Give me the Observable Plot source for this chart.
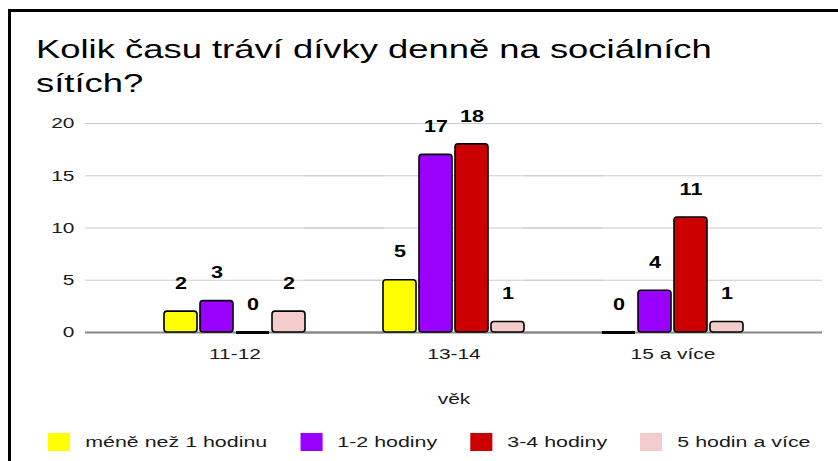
<!DOCTYPE html>
<html>
<head>
<meta charset="utf-8">
<script src="https://cdn.jsdelivr.net/npm/d3@7"></script>
<script src="https://cdn.jsdelivr.net/npm/@observablehq/plot@0.6"></script>
<style>
  html, body { margin: 0; padding: 0; background: #fff; }
  body { width: 838px; height: 461px; overflow: hidden; position: relative; font-family: "Liberation Sans", Arial, sans-serif; }
  #hline { position: absolute; left: 8px; top: 9px; width: 830px; height: 3px; background: #000; }
  #vline { position: absolute; left: 8px; top: 9px; width: 3px; height: 452px; background: #000; }
  #title { position: absolute; left: 36px; top: 32px; font-size: 26px; line-height: 34px; color: #000; white-space: nowrap; transform: scaleX(1.4); transform-origin: 0 0; }
  #chart { position: absolute; left: 0; top: 108px; }
  #legend { position: absolute; left: 48px; top: 425px; transform: scaleX(1.38); transform-origin: 0 0; white-space: nowrap; }
  .lg-swatch { margin-right: 23.8px !important; }
  .lg-swatch > svg { margin-right: 11px !important; }
</style>
</head>
<body>
<div id="hline"></div>
<div id="vline"></div>
<div id="title">Kolik času tráví dívky denně na sociálních<br>sítích?</div>
<div id="chart"></div>
<div id="legend"></div>
<script>
const groups = ["11-12", "13-14", "15 a více"];
const series = ["méně než 1 hodinu", "1-2 hodiny", "3-4 hodiny", "5 hodin a více"];
const colors = ["#ffff00", "#9900ff", "#cc0000", "#f4cccc"];
const values = {
  "méně než 1 hodinu": [2, 5, 0],
  "1-2 hodiny": [3, 17, 4],
  "3-4 hodiny": [0, 18, 11],
  "5 hodin a více": [2, 1, 1]
};
const yTicks = [0, 5, 10, 15, 20];
const xLabel = "věk";

const data = [];
for (const s of series) groups.forEach((g, i) => data.push({group: g, series: s, value: values[s][i]}));

const chart = Plot.plot({
  width: 838,
  height: 304,
  marginLeft: 84,
  marginRight: 16,
  marginTop: 15,
  marginBottom: 80,
  style: {fontFamily: "Liberation Sans, Arial, sans-serif", fontSize: "15.5px", color: "#1a1a1a", background: "transparent"},
  fx: {domain: groups, paddingInner: 0, paddingOuter: 0.1773},
  x: {domain: series, paddingInner: 0.07, paddingOuter: 1.04, axis: null},
  y: {domain: [0, 20], ticks: yTicks, axis: null},
  color: {domain: series, range: colors},
  marks: [
    Plot.ruleY(yTicks.filter(d => d !== 0), {stroke: "#cccccc", strokeWidth: 1.2, insetLeft: -40, insetRight: -40}),
    Plot.axisY({ticks: yTicks, tickSize: 0, tickPadding: 51, label: null, fontSize: 15.5}),
    Plot.axisFx({anchor: "bottom", tickSize: 0, tickPadding: 15, label: xLabel, labelAnchor: "center", labelOffset: 71, fontSize: 15.5}),
    Plot.ruleY([0], {stroke: "#888888", strokeWidth: 2, insetLeft: -40, insetRight: -40}),
    Plot.barY(data, {fx: "group", x: "series", y: "value", fill: "series", stroke: "#000", strokeWidth: 1.6, rx: 3}),
    Plot.tickY(data, {filter: d => d.value === 0, fx: "group", x: "series", y: "value", stroke: "#000", strokeWidth: 3}),
    Plot.text(data, {fx: "group", x: "series", y: "value", text: "value", dy: -28, fontWeight: "bold", fontSize: 16, fill: "#000"})
  ]
});
// the reference's lettering is horizontally widened; widen each text about its own anchor
chart.querySelectorAll("text").forEach(t => {
  t.setAttribute("transform", (t.getAttribute("transform") || "") + " scale(1.35,1)");
});
document.getElementById("chart").appendChild(chart);

const legend = Plot.legend({
  color: {domain: series, range: colors},
  legend: "swatches",
  swatchWidth: 16,
  swatchHeight: 18,
  className: "lg",
  style: {fontFamily: "Liberation Sans, Arial, sans-serif", fontSize: "15.5px", color: "#1a1a1a"}
});
document.getElementById("legend").appendChild(legend);
</script>
</body>
</html>
